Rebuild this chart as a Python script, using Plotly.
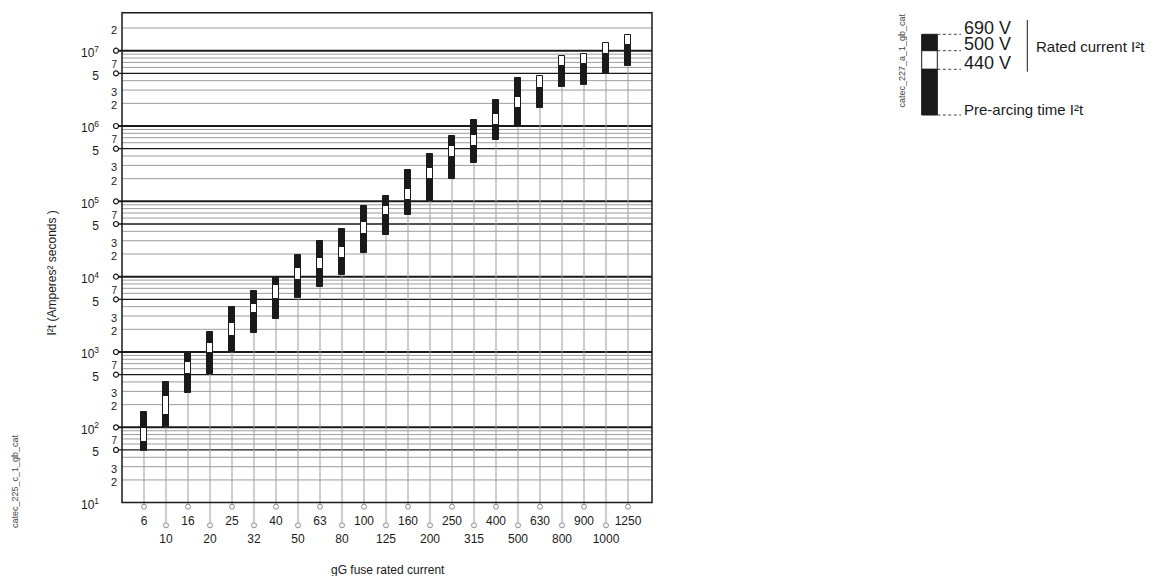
import plotly.graph_objects as go

# ---------------- data ----------------
ratings = ["6", "10", "16", "20", "25", "32", "40", "50", "63", "80", "100", "125",
           "160", "200", "250", "315", "400", "500", "630", "800", "900", "1000", "1250"]
pre_arcing = [49, 100, 288, 510, 1000, 1790, 2740, 5260, 7360, 10600, 20400, 35500,
              65900, 101000, 198000, 320000, 652000, 979000, 1750000, 3330000, 3540000,
              4860000, 6320000]
i2t_440 = [63, 146, 510, 960, 1650, 3260, 5050, 9030, 12500, 17500, 36600, 65000,
           105000, 198000, 392000, 548000, 1030000, 1720000, 3230000, 6270000, 6660000,
           9040000, 11900000]
i2t_500 = [97, 261, 743, 1300, 2450, 4380, 7700, 12900, 17900, 25000, 53200, 88000,
           144000, 275000, 548000, 760000, 1450000, 2400000, 4610000, 8590000, 9120000,
           12500000, 16300000]
i2t_690 = [158, 403, 1000, 1860, 4000, 6500, 10000, 19400, 29700, 43000, 86000, 117000,
           259000, 425000, 743000, 1200000, 2220000, 4300000, None, None, None, None, None]

y_big_ticks = [10, 50, 100, 500, 1000, 5000, 10000, 50000, 100000, 500000,
               1000000, 5000000, 10000000]
y_big_text = ["10<sup>1</sup>", "5", "10<sup>2</sup>", "5", "10<sup>3</sup>", "5",
              "10<sup>4</sup>", "5", "10<sup>5</sup>", "5", "10<sup>6</sup>", "5",
              "10<sup>7</sup>"]
y_23_ticks = [m * 10 ** n for n in range(1, 8) for m in (2, 3) if m * 10 ** n <= 2e7]
y_23_text = [str(int(str(v)[0])) for v in y_23_ticks]
y_7_ticks = [7 * 10 ** n for n in range(1, 7)]
y_7_text = ["7"] * len(y_7_ticks)
y_circle_vals = [v for v in y_big_ticks if v > 10]

legend_labels = ["690 V", "500 V", "440 V"]

# ---------------- geometry (page pixels; page has an 8px body margin) ----------------
OFF = 8
W, H = 1154 - OFF, 576 - OFF
PL, PR, PT, PB = 108, 660, 8, 532
CAT0, CATW = 144.0, 22.0          # page pixel of first category, spacing
DEC, Y7 = 75.32, 50.7             # px per decade, page px of 1e7


def xcat(px):
    return (px - CAT0) / CATW


def ylog(py):
    return 7 - (py - Y7) / DEC


def fx(px):
    return (px - PL) / (PR - PL)


def fy(py):
    return (PB - py) / (PB - PT)


XR = [xcat(PL), xcat(PR)]
YR = [ylog(PB), ylog(PT)]
FRAME_L, FRAME_R = -1.0, xcat(652)
FRAME_TOP = 10 ** ylog(12.7)
YCIRC_X = xcat(116)

FONT = "Liberation Sans, Arial, Helvetica, sans-serif"
INK = "#1a1a1a"
GRID = "#9c9c9c"

idx = list(range(len(ratings)))
even = [i for i in idx if i % 2 == 0]
odd = [i for i in idx if i % 2 == 1]

fig = go.Figure()

# stems from bar bottom down below the axis, with open circles
for group, cpx, xa in ((even, 506.7, "x"), (odd, 525.3, "x2")):
    xs, ys = [], []
    for i in group:
        xs += [i, i, None]
        ys += [pre_arcing[i], 10 ** ylog(cpx - 2.6), None]
    fig.add_trace(go.Scatter(x=xs, y=ys, mode="lines", xaxis=xa, yaxis="y",
                             line=dict(color=GRID, width=1), hoverinfo="skip",
                             showlegend=False))
    fig.add_trace(go.Scatter(x=group, y=[10 ** ylog(cpx)] * len(group), mode="markers",
                             xaxis=xa, yaxis="y", cliponaxis=False,
                             marker=dict(symbol="circle-open", size=5, color="#8a8a8a",
                                         line=dict(width=1)),
                             hoverinfo="skip", showlegend=False))

# y-axis circles
fig.add_trace(go.Scatter(x=[YCIRC_X] * len(y_circle_vals), y=y_circle_vals, mode="markers",
                         xaxis="x", yaxis="y2", cliponaxis=False,
                         marker=dict(symbol="circle-open", size=5, color=INK,
                                     line=dict(width=1.2)),
                         hoverinfo="skip", showlegend=False))
fig.add_trace(go.Scatter(x=[None], y=[None], mode="markers", xaxis="x", yaxis="y3",
                         hoverinfo="skip", showlegend=False))

# bars
BW = 0.28
low_len = [b - a for a, b in zip(pre_arcing, i2t_440)]
mid_len = [b - a for a, b in zip(i2t_440, i2t_500)]
top_len = [(b - a) if b is not None else None for a, b in zip(i2t_500, i2t_690)]
for base, size, col in ((pre_arcing, low_len, INK), (i2t_440, mid_len, "white"),
                        (i2t_500, top_len, INK)):
    fig.add_trace(go.Bar(x=idx, y=size, base=base, width=BW, xaxis="x", yaxis="y",
                         marker=dict(color=col, line=dict(color=INK, width=1)),
                         showlegend=False, hoverinfo="skip"))

# grid lines (shapes)
shapes = []
for n in range(1, 8):
    for m in range(1, 10):
        v = m * 10 ** n
        if v <= 10 or v > 2.5e7:
            continue
        if m == 1:
            st = dict(color=INK, width=2)
            x0 = YCIRC_X + 0.11
        elif m == 5:
            st = dict(color=INK, width=1.3)
            x0 = YCIRC_X + 0.11
        else:
            st = dict(color=GRID, width=1)
            x0 = FRAME_L
        shapes.append(dict(type="line", xref="x", yref="y", x0=x0, x1=FRAME_R,
                           y0=v, y1=v, line=st, layer="below"))
shapes.append(dict(type="rect", xref="x", yref="y", x0=FRAME_L, x1=FRAME_R,
                   y0=10, y1=FRAME_TOP, line=dict(color=INK, width=1.5), layer="above"))

# legend graphic
LX0, LX1 = 921.7, 937.3
seg = [(34.3, 50.7, INK), (50.7, 69.3, "white"), (69.3, 115.0, INK)]
for t, b, c in seg:
    shapes.append(dict(type="rect", xref="paper", yref="paper", x0=fx(LX0), x1=fx(LX1),
                       y0=fy(b), y1=fy(t), fillcolor=c, line=dict(color=INK, width=1)))
for ly in (34.3, 50.7, 69.3, 115.0):
    shapes.append(dict(type="line", xref="paper", yref="paper", x0=fx(LX1), x1=fx(961),
                       y0=fy(ly), y1=fy(ly), line=dict(color="#444", width=1, dash="3px,2.5px")))
shapes.append(dict(type="line", xref="paper", yref="paper", x0=fx(1027.3), x1=fx(1027.3),
                   y0=fy(20), y1=fy(71.7), line=dict(color=INK, width=1)))

ann = []
for lab, base_y in zip(legend_labels, (34.3, 50.7, 69.3)):
    ann.append(dict(text=lab, xref="paper", yref="paper", x=fx(962), y=fy(base_y - 6.4),
                    xanchor="left", yanchor="middle", showarrow=False,
                    font=dict(family=FONT, size=18, color=INK)))
ann.append(dict(text="Rated current I²t", xref="paper", yref="paper", x=fx(1034),
                y=fy(46.5), xanchor="left", yanchor="middle", showarrow=False,
                font=dict(family=FONT, size=15, color=INK)))
ann.append(dict(text="Pre-arcing time I²t", xref="paper", yref="paper", x=fx(962),
                y=fy(109.5), xanchor="left", yanchor="middle", showarrow=False,
                font=dict(family=FONT, size=15, color=INK)))
ann.append(dict(text="catec_227_a_1_gb_cat", xref="paper", yref="paper", x=fx(901.5),
                y=fy(61), textangle=-90, xanchor="center", yanchor="middle",
                showarrow=False, font=dict(family=FONT, size=9, color="#444")))
ann.append(dict(text="catec_225_c_1_gb_cat", xref="paper", yref="paper", x=fx(15),
                y=fy(481), textangle=-90, xanchor="center", yanchor="middle",
                showarrow=False, font=dict(family=FONT, size=9, color="#444")))
ann.append(dict(text="I²t (Amperes² seconds )", xref="paper", yref="paper", x=fx(51.5),
                y=fy(273), textangle=-90, xanchor="center", yanchor="middle",
                showarrow=False, font=dict(family=FONT, size=12, color=INK)))
ann.append(dict(text="gG fuse rated current", xref="paper", yref="paper", x=fx(388),
                y=fy(570), xanchor="center", yanchor="middle",
                showarrow=False, font=dict(family=FONT, size=12, color=INK)))

axis_pos = fy(501)
common_x = dict(range=XR, showgrid=False, zeroline=False, showline=False, ticks="",
                anchor="free", position=axis_pos,
                tickfont=dict(family=FONT, size=12, color=INK), fixedrange=True)
common_y = dict(type="log", range=YR, showgrid=False, zeroline=False, showline=False,
                ticks="", tickmode="array", fixedrange=True, ticklabelshift=2)
fig.update_layout(
    width=W, height=H,
    margin=dict(l=PL - OFF, r=W - (PR - OFF), t=PT - OFF, b=H - (PB - OFF), autoexpand=False),
    paper_bgcolor="white", plot_bgcolor="white",
    barmode="overlay", bargap=0,
    xaxis=dict(common_x, tickmode="array", tickvals=even,
               ticktext=[ratings[i] for i in even], ticklabelstandoff=11),
    xaxis2=dict(common_x, overlaying="x", tickmode="array", tickvals=odd,
                ticktext=[ratings[i] for i in odd], ticklabelstandoff=29),
    yaxis=dict(common_y, tickvals=y_big_ticks, ticktext=y_big_text,
               ticklabelstandoff=8, tickfont=dict(family=FONT, size=12, color=INK)),
    yaxis2=dict(common_y, overlaying="y", anchor="free", position=fx(118), side="left",
                tickvals=y_23_ticks, ticktext=y_23_text, ticklabelstandoff=1,
                tickfont=dict(family=FONT, size=11, color=INK)),
    yaxis3=dict(common_y, overlaying="y", anchor="free", position=fx(118), side="left",
                tickvals=y_7_ticks, ticktext=y_7_text, ticklabelstandoff=1,
                tickfont=dict(family=FONT, size=10, color=INK)),
    shapes=shapes, annotations=ann, showlegend=False,
)

fig.write_html("out.html")
